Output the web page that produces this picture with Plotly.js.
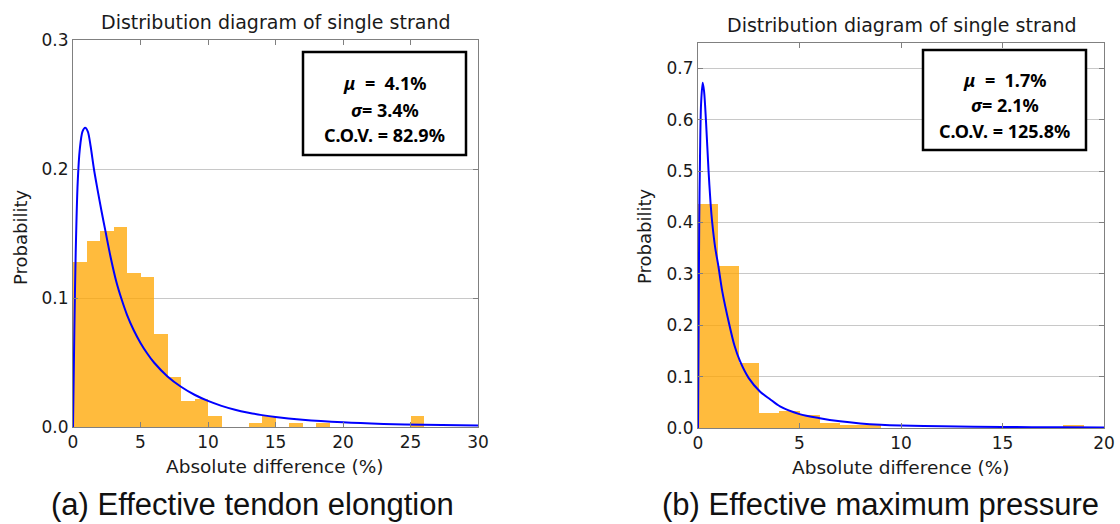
<!DOCTYPE html>
<html>
<head>
<meta charset="utf-8">
<script src="https://cdn.plot.ly/plotly-3.0.1.min.js"></script>
<style>html,body{margin:0;padding:0;background:#fff;}#chart{width:1120px;height:524px;}</style>
</head>
<body>
<div id="chart"></div>
<script>
// ---- data ----
const leftBinStart = [0,1,2,3,4,5,6,7,8,9,10,11,12,13,14,15,16,17,18,19,20,21,22,23,24,25];
const leftProb = [0.128,0.144,0.152,0.155,0.119,0.116,0.072,0.039,0.020,0.022,0.0085,0,0,0.0028,0.0085,0,0.0028,0,0.0028,0,0,0,0,0,0,0.0085];
const leftCurveX = [0,0.1,0.2,0.35,0.5,0.7,0.9,1.1,1.3,1.55,1.8,2.1,2.4,2.8,3.2,3.6,4,4.5,5,5.5,6,7,8,9,10,11,12,13,14,15,17,20,23,26,30];
const leftCurveY = [0,0.075,0.135,0.19,0.215,0.229,0.232,0.229,0.218,0.2,0.185,0.168,0.152,0.131,0.113,0.099,0.087,0.075,0.0652,0.057,0.050,0.0392,0.0312,0.025,0.0202,0.0164,0.0134,0.0111,0.0092,0.0077,0.0056,0.0036,0.0024,0.0017,0.0011];

const rightBinStart = [0,1,2,3,4,5,6,7,8,9,10,11,12,13,14,15,16,17,18];
const rightProb = [0.437,0.316,0.126,0.029,0.034,0.026,0.009,0.006,0.006,0,0,0,0,0,0,0,0,0,0.005];
const rightCurveX = [0,0.03,0.06,0.1,0.15,0.23,0.3,0.39,0.52,0.62,0.7,0.85,1.0,1.2,1.55,1.8,2.07,2.5,3.05,3.55,4.04,5,6,7,8,9,10,12,15,18,20];
const rightCurveY = [0,0.2,0.4,0.53,0.63,0.672,0.655,0.6,0.5,0.437,0.4,0.35,0.316,0.265,0.2,0.16,0.13,0.097,0.071,0.056,0.042,0.027,0.019,0.013,0.009,0.0065,0.005,0.0033,0.002,0.0013,0.001];

const leftXTicks = [0,5,10,15,20,25,30];
const leftYTicks = [0,0.1,0.2,0.3];
const rightXTicks = [0,5,10,15,20];
const rightYTicks = [0,0.1,0.2,0.3,0.4,0.5,0.6,0.7];

const plotTitle = 'Distribution diagram of single strand';
const xTitle = 'Absolute difference (%)';
const yTitle = 'Probability';
const leftStats = ['<b><i>μ</i>  =  4.1%</b>', '<b><i>σ</i>= 3.4%</b>', '<b>C.O.V. = 82.9%</b>'];
const rightStats = ['<b><i>μ</i>  =  1.7%</b>', '<b><i>σ</i>= 2.1%</b>', '<b>C.O.V. = 125.8%</b>'];
const captions = ['(a) Effective tendon elongtion', '(b) Effective maximum pressure'];

// ---- layout helpers ----
const W = 1120, H = 524;
const px = v => v / W;
const py = v => (H - v) / H;

const barColor = 'rgba(255,165,0,0.76)';
const traces = [
  {type:'bar', x:leftBinStart, y:leftProb, width:1, offset:0, marker:{color:barColor, line:{width:0}}, xaxis:'x', yaxis:'y', hoverinfo:'skip'},
  {type:'scatter', mode:'lines', x:leftCurveX, y:leftCurveY, line:{color:'#0000ff', width:2, shape:'spline', smoothing:0.8}, xaxis:'x', yaxis:'y'},
  {type:'bar', x:rightBinStart, y:rightProb, width:1, offset:0, marker:{color:barColor, line:{width:0}}, xaxis:'x2', yaxis:'y2', hoverinfo:'skip'},
  {type:'scatter', mode:'lines', x:rightCurveX, y:rightCurveY, line:{color:'#0000ff', width:2, shape:'spline', smoothing:0.8}, xaxis:'x2', yaxis:'y2'}
];

const tickFont = {family:'DejaVu Sans', size:17, color:'#1a1a1a'};
function xAxis(domain, range, ticks, anchor){
  return {domain, range, tickvals:ticks, ticktext:ticks.map(String), anchor,
    showgrid:false, zeroline:false, showline:true, linecolor:'#808080', linewidth:1, mirror:'ticks',
    ticks:'inside', ticklen:5, tickcolor:'#808080', tickfont:tickFont, automargin:false, fixedrange:true};
}
function yAxis(domain, range, ticks, anchor){
  return {domain, range, tickvals:ticks, ticktext:ticks.map(v=>v.toFixed(1)), anchor,
    showgrid:true, gridcolor:'#c8c8c8', gridwidth:1, zeroline:false, showline:true, linecolor:'#808080', linewidth:1, mirror:'ticks',
    ticks:'inside', ticklen:5, tickcolor:'#808080', tickfont:tickFont, automargin:false, fixedrange:true};
}

const ann = [];
function txt(x, y, text, size, opts){
  ann.push(Object.assign({xref:'paper', yref:'paper', x:px(x), y:py(y), text, showarrow:false,
    xanchor:'center', yanchor:'middle', font:{family:'DejaVu Sans', size, color:'#1a1a1a'}}, opts||{}));
}
// subplot titles
txt(275, 22, plotTitle, 19);
txt(901, 25, plotTitle, 19);
// axis titles
txt(275, 466, xTitle, 18.5);
txt(901, 467, xTitle, 18.5);
txt(20, 238, yTitle, 18, {textangle:-90});
txt(645, 237, yTitle, 18, {textangle:-90});
// stats boxes
const statFont = 'Noto Sans';
[83,110,135].forEach((y,i)=>txt(384.5, y, leftStats[i], 18, {font:{family:statFont,size:18,color:'#000'}}));
[80,105,131].forEach((y,i)=>txt(1004.5, y, rightStats[i], 18, {font:{family:statFont,size:18,color:'#000'}}));
// captions
txt(252, 504, captions[0], 31, {font:{family:'Liberation Sans', size:31, color:'#111'}});
txt(880, 504, captions[1], 31, {font:{family:'Liberation Sans', size:31, color:'#111'}});

const shapes = [
  {type:'rect', xref:'paper', yref:'paper', x0:px(303), x1:px(466), y0:py(52), y1:py(155), line:{color:'#000', width:2.5}, fillcolor:'#fff', layer:'above'},
  {type:'rect', xref:'paper', yref:'paper', x0:px(923), x1:px(1086), y0:py(50), y1:py(150), line:{color:'#000', width:2.5}, fillcolor:'#fff', layer:'above'}
];

const layout = {
  width:W, height:H, margin:{l:0,r:0,t:0,b:0}, paper_bgcolor:'#fff', plot_bgcolor:'#fff',
  showlegend:false, bargap:0,
  xaxis: xAxis([px(73), px(478)], [0,30], leftXTicks, 'y'),
  yaxis: yAxis([py(427), py(40)], [0,0.3], leftYTicks, 'x'),
  xaxis2: xAxis([px(698), px(1104)], [0,20], rightXTicks, 'y2'),
  yaxis2: yAxis([py(428), py(42.7)], [0,0.75], rightYTicks, 'x2'),
  annotations: ann, shapes
};
Plotly.newPlot('chart', traces, layout, {staticPlot:true, displayModeBar:false});
</script>
</body>
</html>
